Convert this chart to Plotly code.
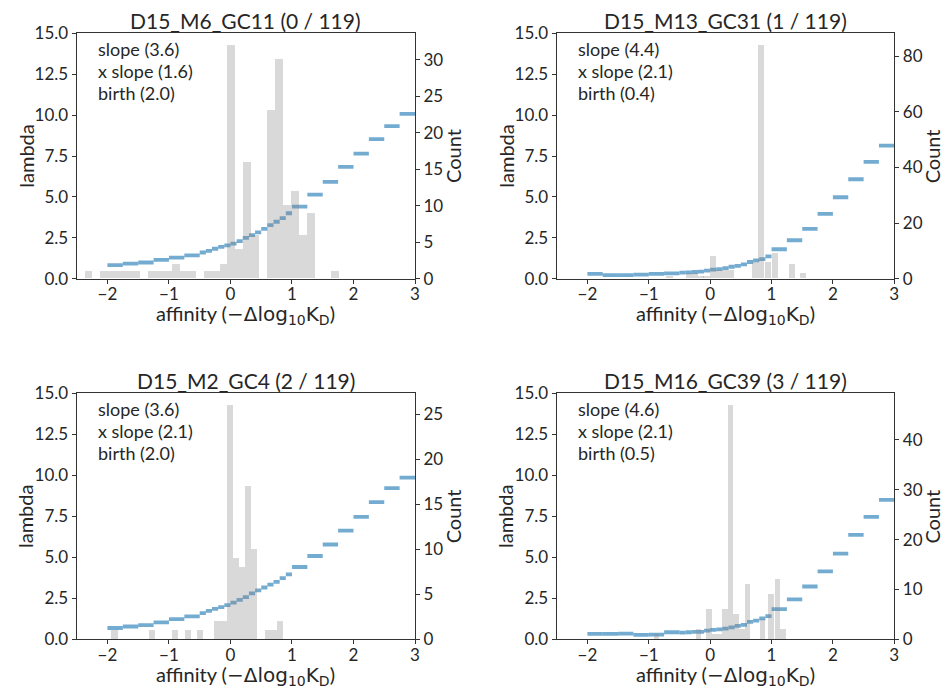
import plotly.graph_objects as go

# ---------------- data ----------------
titles = ["D15_M6_GC11 (0 / 119)", "D15_M13_GC31 (1 / 119)",
          "D15_M2_GC4 (2 / 119)", "D15_M16_GC39 (3 / 119)"]
slopes = [3.6, 4.4, 3.6, 4.6]
x_slopes = [1.6, 2.1, 2.1, 2.1]
births = [2.0, 0.4, 2.0, 0.5]

# affinity bin edges of the lambda step function
seg_edges = [-2.0, -1.75, -1.5, -1.25, -1.0, -0.75, -0.5, -0.4, -0.3, -0.2, -0.1,
             0.0, 0.1, 0.2, 0.3, 0.4, 0.5, 0.6, 0.7, 0.8, 0.9, 1.0,
             1.25, 1.5, 1.75, 2.0, 2.25, 2.5, 2.75, 3.0]

lam1 = [0.83, 0.92, 0.99, 1.15, 1.29, 1.43,
        1.60, 1.70, 1.83, 1.95, 2.04, 2.15, 2.30, 2.50, 2.66, 2.83, 3.05, 3.27, 3.48, 3.70, 4.00,
        4.40, 5.14, 5.92, 6.84, 7.65, 8.53, 9.33, 10.08]
lam2 = [0.29, 0.22, 0.22, 0.245, 0.29, 0.33,
        0.37, 0.39, 0.41, 0.43, 0.49, 0.55, 0.59, 0.65, 0.73, 0.78, 0.88, 1.02, 1.12, 1.20, 1.37,
        1.80, 2.35, 3.04, 3.96, 4.98, 6.08, 7.14, 8.14]
lam3 = [0.69, 0.78, 0.87, 1.03, 1.23, 1.40,
        1.59, 1.73, 1.86, 1.96, 2.08, 2.24, 2.41, 2.57, 2.80, 2.98, 3.16, 3.33, 3.50, 3.73, 3.96,
        4.41, 5.08, 5.78, 6.63, 7.47, 8.37, 9.22, 9.86]
lam4 = [0.33, 0.33, 0.35, 0.27, 0.29, 0.43,
        0.41, 0.43, 0.45, 0.45, 0.53, 0.57, 0.61, 0.65, 0.73, 0.82, 0.88, 1.06, 1.14, 1.27, 1.41,
        1.84, 2.44, 3.22, 4.14, 5.22, 6.37, 7.47, 8.50]

# histogram bin centers and counts
hx1 = [-2.313, -2.055, -1.926, -1.797, -1.667, -1.538, -1.280, -1.151, -1.022, -0.893,
       -0.763, -0.634, -0.376, -0.247, -0.118, 0.011, 0.141, 0.270, 0.399, 0.657,
       0.786, 0.915, 1.045, 1.174, 1.303, 1.690]
hc1 = [1, 1, 1, 1, 1, 1, 1, 1, 1, 2, 1, 1, 1, 1, 2, 32, 4, 16, 6, 23, 30, 10, 12, 6, 9, 1]
hx2 = [-0.666, -0.353, -0.250, -0.155, -0.063, 0.038, 0.141, 0.239, 0.340,
       0.726, 0.826, 0.938, 1.046, 1.325, 1.510]
hc2 = [1, 2, 2, 1, 1, 8, 3, 3, 3, 6, 84, 6, 9, 5, 2]
hx3 = [-1.892, -1.286, -0.903, -0.692, -0.497, -0.220, -0.119, -0.016, 0.081, 0.178,
       0.276, 0.378, 0.600, 0.697, 0.800]
hc3 = [1, 1, 1, 1, 1, 2, 2, 26, 9, 8, 17, 10, 1, 1, 2]
hx4 = [-0.878, -0.196, -0.020, 0.068, 0.150, 0.240, 0.330, 0.418, 0.510, 0.600,
       0.846, 0.990, 1.090, 1.180]
hc4 = [1, 2, 6, 1, 1, 6, 47, 5, 2, 11, 4, 9, 12, 2]
bin_width = [0.1292, 0.102, 0.101, 0.09]

count_ticks = [[0, 5, 10, 15, 20, 25, 30], [0, 20, 40, 60, 80],
               [0, 5, 10, 15, 20, 25], [0, 10, 20, 30, 40]]
lambda_ticks = [0, 2.5, 5, 7.5, 10, 12.5, 15]
x_ticks = [-2, -1, 0, 1, 2, 3]

lams = [lam1, lam2, lam3, lam4]
hxs = [hx1, hx2, hx3, hx4]
hcs = [hc1, hc2, hc3, hc4]

# ---------------- layout geometry (pixels) ----------------
W, H = 945, 690
px_x = [[76.7, 415.0], [556.7, 894.3], [76.7, 415.0], [556.7, 894.3]]
px_y = [[33.3, 278.7], [33.3, 278.7], [393.3, 639.3], [393.3, 639.3]]
dom_x = [[a / W, b / W] for a, b in px_x]
dom_y = [[1 - b / H, 1 - a / H] for a, b in px_y]


def fx(p):
    return p / W


def fy(p):
    return 1 - p / H


FONT = "Lato, 'Open Sans', sans-serif"
TXT = "#262626"
SPINE = "#333333"
LINE_COL = "rgba(31,119,180,0.62)"
BAR_COL = "rgba(128,128,128,0.30)"
TICK_SIZE = 17
LABEL_SIZE = 20
TITLE_SIZE = 21
NOTE_SIZE = 18

XLABEL = ("affinity (<span style=\"font-family:'DejaVu Sans'\">−Δlog"
          "<sub>10</sub>K<sub>D</sub></span>)")

fig = go.Figure()
layout = dict(
    width=W, height=H, margin=dict(l=0, r=0, t=0, b=0, autoexpand=False),
    paper_bgcolor="white", plot_bgcolor="white", showlegend=False,
    font=dict(family=FONT, color=TXT, size=TICK_SIZE),
)
annotations = []

for i in range(4):
    n = i + 1
    xa = "x" if n == 1 else f"x{n}"
    yl_n = 2 * i + 1
    yr_n = 2 * i + 2
    yl = "y" if yl_n == 1 else f"y{yl_n}"
    yr = f"y{yr_n}"

    # step function: horizontal segments
    sx, sy = [], []
    for k, v in enumerate(lams[i]):
        sx += [seg_edges[k], seg_edges[k + 1], None]
        sy += [v, v, None]
    fig.add_trace(go.Scatter(x=sx, y=sy, mode="lines", xaxis=xa, yaxis=yl,
                             line=dict(color=LINE_COL, width=3.8), hoverinfo="skip"))
    # histogram on twin axis
    fig.add_trace(go.Bar(x=hxs[i], y=hcs[i], width=bin_width[i], xaxis=xa, yaxis=yr,
                         marker=dict(color=BAR_COL, line=dict(width=0)), hoverinfo="skip"))

    xkey = "xaxis" if n == 1 else f"xaxis{n}"
    ylkey = "yaxis" if yl_n == 1 else f"yaxis{yl_n}"
    yrkey = f"yaxis{yr_n}"
    common = dict(ticks="outside", ticklen=4, tickwidth=1, tickcolor=SPINE,
                  showline=True, linecolor=SPINE, linewidth=1.2,
                  showgrid=False, zeroline=False, automargin=False,
                  tickfont=dict(size=TICK_SIZE, color=TXT))

    layout[xkey] = dict(domain=dom_x[i], anchor=yl, range=[-2.5, 3.0],
                        tickmode="array", tickvals=x_ticks, mirror=True,
                        ticklabelstandoff=-4, **common)
    layout[ylkey] = dict(domain=dom_y[i], anchor=xa, range=[0, 15],
                         tickmode="array", tickvals=lambda_ticks, tickformat=".1f",
                         mirror=True, **common)
    layout[yrkey] = dict(overlaying=yl, side="right", anchor=xa,
                         range=[0, max(hcs[i]) * 1.05],
                         tickmode="array", tickvals=count_ticks[i], **common)

    x0, x1 = px_x[i]
    y0, y1 = px_y[i]
    # subplot title
    annotations.append(dict(text=titles[i], xref="paper", yref="paper",
                            x=fx((x0 + x1) / 2), y=fy(y0 - 12.5),
                            xanchor="center", yanchor="middle", showarrow=False,
                            font=dict(size=TITLE_SIZE, color=TXT)))
    # axis titles
    annotations.append(dict(text=XLABEL, xref="paper", yref="paper",
                            x=fx((x0 + x1) / 2), y=fy(y1 + 36),
                            xanchor="center", yanchor="middle", showarrow=False,
                            font=dict(size=LABEL_SIZE, color=TXT)))
    annotations.append(dict(text="lambda", xref="paper", yref="paper",
                            x=fx(x0 - 51), y=fy((y0 + y1) / 2), textangle=-90,
                            xanchor="center", yanchor="middle", showarrow=False,
                            font=dict(size=LABEL_SIZE, color=TXT)))
    annotations.append(dict(text="Count", xref="paper", yref="paper",
                            x=fx(x1 + 38), y=fy((y0 + y1) / 2), textangle=-90,
                            xanchor="center", yanchor="middle", showarrow=False,
                            font=dict(size=LABEL_SIZE, color=TXT)))
    # parameter text, one line each
    lines = [f"slope ({slopes[i]:.1f})", f"x slope ({x_slopes[i]:.1f})",
             f"birth ({births[i]:.1f})"]
    for j, t in enumerate(lines):
        annotations.append(dict(text=t, xref="paper", yref="paper",
                                x=fx(x0 + 19), y=fy(y0 + 15.5 + 22 * j),
                                xanchor="left", yanchor="middle", showarrow=False,
                                font=dict(size=NOTE_SIZE, color=TXT)))

layout["annotations"] = annotations
layout["bargap"] = 0
fig.update_layout(**layout)
fig.write_html("out.html", config={"displayModeBar": False},
               post_script="document.body.style.margin='0px';document.body.style.overflow='hidden';")
